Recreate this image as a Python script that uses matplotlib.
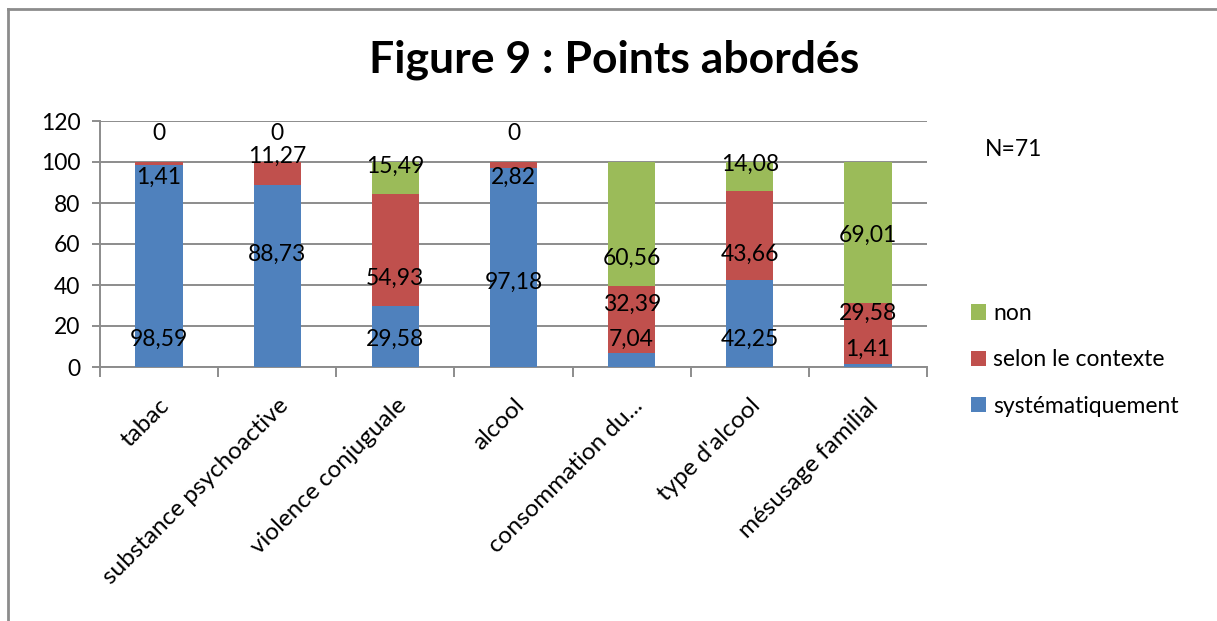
import matplotlib
matplotlib.use("Agg")
import matplotlib.pyplot as plt
from matplotlib.lines import Line2D
from matplotlib.patches import Patch
import numpy as np

plt.rcParams['font.family'] = ['Lato', 'DejaVu Sans']

categories = ["tabac", "substance psychoactive", "violence conjuguale", "alcool",
              "consommation du...", "type d'alcool", "mésusage familial"]
systematiquement = [98.59, 88.73, 29.58, 97.18, 7.04, 42.25, 1.41]
selon_contexte = [1.41, 11.27, 54.93, 2.82, 32.39, 43.66, 29.58]
non = [0, 0, 15.49, 0, 60.56, 14.08, 69.01]
series_names = ["systématiquement", "selon le contexte", "non"]
colors = ["#4F81BD", "#C0504D", "#9BBB59"]
yticks = [0, 20, 40, 60, 80, 100, 120]
# label heights as placed in the original chart (data units)
label_y_sys = [13.7, 55, 13.7, 41.5, 13.7, 13.7, 8.8]
label_y_sel = [92.7, 103, 43.4, 92.7, 30.7, 55, 26.3]
label_y_non = [114, 114, 98, 114, 53.2, 99, 64]

W, H = 1217, 621
FS = 16.5
fig = plt.figure(figsize=(W / 100, H / 100), dpi=100)
ax = fig.add_axes([100 / W, 1 - 367 / H, 827 / W, 246 / H])

x = np.arange(len(categories))
series = [systematiquement, selon_contexte, non]
bottom = np.zeros(len(categories))
for vals, c in zip(series, colors):
    ax.bar(x, vals, width=0.4, bottom=bottom, color=c, zorder=3)
    bottom += np.array(vals)

fmt = lambda v: (("%.2f" % v).replace(".", ",") if v != 0 else "0")
for vals, ys in zip(series, [label_y_sys, label_y_sel, label_y_non]):
    for xi, v, yy in zip(x, vals, ys):
        ax.text(xi, yy, fmt(v), ha="center", va="center", fontsize=FS,
                color="black", zorder=5)

ax.set_xlim(-0.5, len(categories) - 0.5)
ax.set_ylim(0, 120)
ax.set_yticks(yticks)
ax.set_yticklabels([str(t) for t in yticks], fontsize=FS)
ax.yaxis.grid(True, color="#8C8C8C", linewidth=1.4, zorder=0)
ax.set_axisbelow(True)
for s in ["top", "right"]:
    ax.spines[s].set_visible(False)
for s in ["left", "bottom"]:
    ax.spines[s].set_color("#8C8C8C")
    ax.spines[s].set_linewidth(1.4)
ax.tick_params(axis="y", length=6, width=1.4, color="#8C8C8C", pad=8)

ax.set_xticks(x)
ax.set_xticklabels(categories, rotation=45, ha="right", rotation_mode="anchor",
                   fontsize=17.5)
ax.set_xticks(np.arange(-0.5, len(categories)), minor=True)
ax.tick_params(axis="x", which="major", length=0, pad=20)
ax.tick_params(axis="x", which="minor", length=7, width=1.4, color="#8C8C8C")

fig.text(614 / W, 1 - 60 / H, "Figure 9 : Points abordés", ha="center",
         va="center", fontsize=32, fontweight="bold")
fig.text(985 / W, 1 - 150 / H, "N=71", ha="left", va="center", fontsize=FS)

handles = [Patch(facecolor=colors[i]) for i in [2, 1, 0]]
labels = [series_names[i] for i in [2, 1, 0]]
fig.legend(handles, labels, loc="upper left", bbox_to_anchor=(962 / W, 1 - 294 / H),
           frameon=False, fontsize=FS, handlelength=0.65, handleheight=0.65,
           handletextpad=0.3, labelspacing=1.1, borderaxespad=0)

fig.add_artist(Line2D([8 / W, 1], [1 - 8.5 / H, 1 - 8.5 / H], color="#8C8C8C",
                      linewidth=2, transform=fig.transFigure))
fig.add_artist(Line2D([8 / W, 8 / W], [0, 1 - 8.5 / H], color="#8C8C8C",
                      linewidth=2, transform=fig.transFigure))

fig.savefig("out.png", dpi=100)
